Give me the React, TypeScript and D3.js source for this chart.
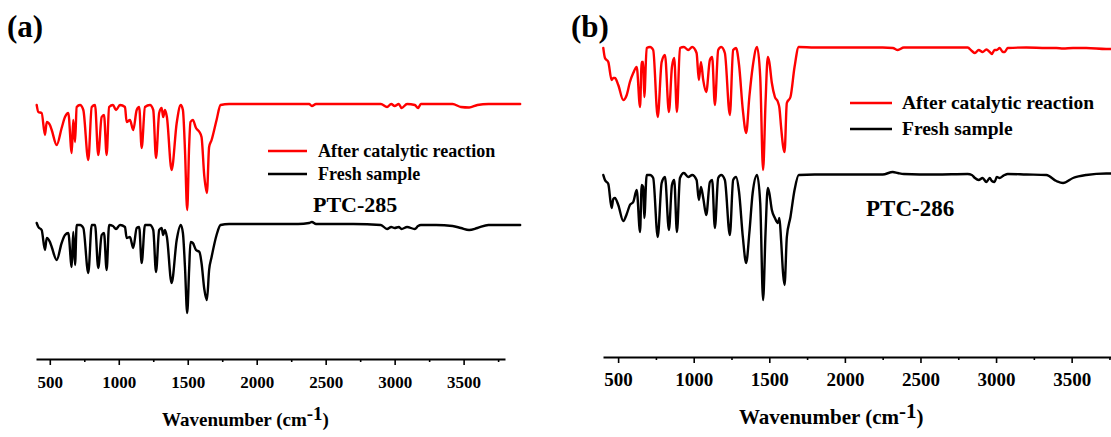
import React, { useEffect, useRef } from 'react';
import * as d3 from 'd3';

// ---------- DATA (wavenumber in cm^-1, transmittance in a.u., curves offset) ----------
const wavenumberA = [
  405, 417, 441, 465, 478, 501, 514, 550, 586, 610, 634, 659, 670, 683, 695, 719, 743, 779, 804, 828,
  851, 876, 893, 912, 930, 958, 980, 1009, 1045, 1057, 1081, 1105, 1130, 1148, 1166, 1190, 1226, 1250, 1270, 1293,
  1311, 1322, 1335, 1349, 1383, 1420, 1449, 1465, 1480, 1496, 1510, 1520, 1537, 1560, 1585, 1600, 1620, 1639, 1655, 1673,
  1709, 1738, 1800, 2000, 2300, 2380, 2400, 2430, 2500, 2700, 2900, 2945, 2975, 3000, 3030, 3050, 3090, 3146, 3170, 3190,
  3300, 3420, 3480, 3540, 3600, 3680, 3800, 3910,
];
const afterA = [
  254, 247, 246, 224, 237, 234, 229, 214, 231, 242, 246, 206, 239, 217, 252, 254, 249, 199, 252, 254,
  204, 242, 244, 204, 252, 254, 249, 254, 252, 237, 239, 229, 249, 252, 211, 252, 254, 249, 201, 246,
  251, 242, 249, 242, 189, 236, 254, 249, 209, 149, 212, 237, 239, 231, 227, 222, 183, 166, 212, 219,
  239, 254, 255, 255, 255, 255, 253, 255, 255, 255, 255, 252, 255, 253, 255, 251, 255, 254, 251, 255,
  255, 255, 252, 251.5, 254, 255, 255, 255,
];
const freshA = [
  136, 132, 129, 109, 121, 117, 112, 99, 116, 124, 126, 92, 127, 94, 134, 134, 131, 86, 134, 134,
  91, 124, 126, 89, 134, 133, 130, 134, 132, 121, 122, 111, 131, 132, 96, 134, 134, 129, 87, 129,
  131, 124, 129, 122, 76, 119, 134, 126, 92, 46, 89, 117, 116, 109, 107, 96, 70, 59, 89, 102,
  124, 134, 135, 135, 135, 136, 137, 135, 135, 135, 134, 130, 132, 131, 132, 130, 132, 130, 133, 134,
  134, 133, 131, 129, 131, 134, 134, 134,
];

const wavenumberB = [
  402, 413, 435, 457, 468, 479, 501, 534, 557, 578, 600, 623, 645, 656, 666, 673, 689, 711, 732, 762,
  788, 810, 836, 856, 871, 889, 909, 935, 964, 990, 1019, 1034, 1048, 1063, 1083, 1107, 1122, 1140, 1162, 1182,
  1206, 1239, 1261, 1280, 1300, 1325, 1347, 1368, 1390, 1419, 1440, 1459, 1475, 1490, 1500, 1517, 1537, 1557, 1567, 1578,
  1592, 1601, 1616, 1640, 1667, 1695, 1800, 2000, 2250, 2317, 2350, 2390, 2600, 2812, 2840, 2860, 2885, 2911, 2936, 2958,
  2972, 2990, 3005, 3024, 3045, 3057, 3077, 3200, 3333, 3399, 3443, 3509, 3597, 3729, 3850,
];
const afterB = [
  309, 299, 295, 277, 279, 279, 272, 257, 262, 275, 284, 290, 250, 295, 295, 260, 309, 310, 307, 240,
  295, 302, 245, 290, 299, 245, 309, 310, 307, 310, 304, 277, 295, 277, 265, 297, 300, 252, 307, 310,
  304, 242, 307, 309, 292, 247, 224, 260, 290, 310, 280, 187, 254, 300, 295, 274, 260, 255, 249, 230,
  210, 205, 254, 260, 290, 310, 309.5, 309.5, 309.5, 309, 307, 309.5, 309.5, 309.5, 306, 304, 307, 305, 307.5, 305,
  303, 307, 307, 309, 305, 305, 309, 309.5, 309, 309, 308.5, 309, 309, 308, 308,
];
const freshB = [
  182, 177, 173, 149, 158, 159, 152, 136, 143, 152, 155, 167, 125, 172, 170, 139, 182, 182, 179, 120,
  174, 180, 127, 172, 177, 125, 179, 184, 180, 182, 177, 157, 170, 159, 142, 175, 177, 129, 179, 182,
  177, 122, 177, 180, 165, 120, 94, 124, 164, 182, 154, 57, 124, 169, 164, 147, 139, 134, 139, 117,
  82, 72, 120, 140, 167, 182, 182.5, 182.5, 182.5, 185, 184, 183, 182.5, 183, 182, 179, 177, 179, 175, 179,
  176, 175, 180, 179, 181, 182, 183, 182.5, 182, 176, 174, 179, 182, 183.5, 183.5,
];

const majorTicks = [500, 1000, 1500, 2000, 2500, 3000, 3500];
const minorTicks = [750, 1250, 1750, 2250, 2750, 3250, 3750];
const legendLabels = ['After catalytic reaction', 'Fresh sample'];
const sampleNames = ['PTC-285', 'PTC-286'];
const panelTags = ['(a)', '(b)'];
const seriesColors = ['#ff0000', '#000000'];

const FONT = '"Liberation Serif", "Times New Roman", Times, serif';

type Cfg = {
  xRange: [number, number];
  axisY: number;
  yTop: number;
  tickFont: number;
  tickBaseline: number;
  titleFont: number;
  titleX: number;
  titleBaseline: number;
  legLine: [number, number];
  legRows: [number, number];
  legTextX: number;
  legFont: number;
  sampleX: number;
  sampleBaseline: number;
  sampleFont: number;
  tagX: number;
  tagBaseline: number;
  tagFont: number;
};

const cfgA: Cfg = {
  xRange: [36, 505], axisY: 359, yTop: 19,
  tickFont: 17, tickBaseline: 387.5,
  titleFont: 19, titleX: 162, titleBaseline: 426,
  legLine: [268, 307], legRows: [151, 174], legTextX: 318, legFont: 18,
  sampleX: 313, sampleBaseline: 211.5, sampleFont: 22,
  tagX: 7, tagBaseline: 37, tagFont: 31,
};
const cfgB: Cfg = {
  xRange: [603, 1117], axisY: 357, yTop: 17,
  tickFont: 19, tickBaseline: 386,
  titleFont: 21, titleX: 739, titleBaseline: 424,
  legLine: [850, 892], legRows: [103, 129], legTextX: 902, legFont: 19.5,
  sampleX: 866, sampleBaseline: 216, sampleFont: 23,
  tagX: 571, tagBaseline: 37, tagFont: 31,
};

function Panel({ cfg, wn, after, fresh, name, tag }: { cfg: Cfg; wn: number[]; after: number[]; fresh: number[]; name: string; tag: string }) {
  const axisRef = useRef<SVGGElement>(null);
  const minorRef = useRef<SVGGElement>(null);
  const x = d3.scaleLinear().domain([400, 3800]).range(cfg.xRange);
  const y = d3.scaleLinear().domain([0, 340]).range([cfg.axisY, cfg.yTop]);
  const line = d3
    .line<number>()
    .x((_, i) => x(wn[i]))
    .y((d) => y(d))
    .curve(d3.curveMonotoneX);

  useEffect(() => {
    if (axisRef.current) {
      const g = d3.select(axisRef.current);
      g.call(d3.axisBottom(x).tickValues(majorTicks).tickSize(6).tickSizeOuter(0).tickFormat(d3.format('d')) as any);
      g.select('.domain').attr('stroke', '#000').attr('stroke-width', 2);
      g.selectAll('.tick line').attr('stroke', '#000').attr('stroke-width', 1.6);
      g.selectAll('.tick text')
        .attr('y', cfg.tickBaseline - cfg.axisY)
        .attr('dy', null)
        .attr('fill', '#000')
        .style('font-family', FONT)
        .style('font-weight', 'bold')
        .style('font-size', cfg.tickFont + 'px');
    }
    if (minorRef.current) {
      const g = d3.select(minorRef.current);
      g.call(d3.axisBottom(x).tickValues(minorTicks).tickSize(3).tickSizeOuter(0).tickFormat(() => '') as any);
      g.select('.domain').remove();
      g.selectAll('.tick line').attr('stroke', '#000').attr('stroke-width', 1.6);
    }
  });

  const series = [after, fresh];
  return (
    <g>
      {series.map((s, i) => (
        <path key={i} d={line(s) || ''} fill="none" stroke={seriesColors[i]} strokeWidth={2.4} strokeLinejoin="round" strokeLinecap="round" />
      ))}
      <g ref={minorRef} transform={`translate(0,${cfg.axisY})`} />
      <g ref={axisRef} transform={`translate(0,${cfg.axisY})`} />
      <text x={cfg.titleX} y={cfg.titleBaseline} fontFamily={FONT} fontWeight="bold" fontSize={cfg.titleFont} fill="#000">
        Wavenumber (cm
        <tspan dy={-6}>-1</tspan>
        <tspan dy={6}>)</tspan>
      </text>
      {legendLabels.map((lab, i) => (
        <g key={lab}>
          <line x1={cfg.legLine[0]} x2={cfg.legLine[1]} y1={cfg.legRows[i]} y2={cfg.legRows[i]} stroke={seriesColors[i]} strokeWidth={2.4} />
          <text x={cfg.legTextX} y={cfg.legRows[i] + cfg.legFont * 0.33} fontFamily={FONT} fontWeight="bold" fontSize={cfg.legFont} fill="#000">
            {lab}
          </text>
        </g>
      ))}
      <text x={cfg.sampleX} y={cfg.sampleBaseline} fontFamily={FONT} fontWeight="bold" fontSize={cfg.sampleFont} fill="#000">
        {name}
      </text>
      <text x={cfg.tagX} y={cfg.tagBaseline} fontFamily={FONT} fontWeight="bold" fontSize={cfg.tagFont} fill="#000">
        {tag}
      </text>
    </g>
  );
}

export default function App() {
  return (
    <svg width={1111} height={437} viewBox="0 0 1111 437" style={{ position: 'absolute', left: 0, top: 0, background: '#fff' }}>
      <rect x={0} y={0} width={1111} height={437} fill="#fff" />
      <Panel cfg={cfgA} wn={wavenumberA} after={afterA} fresh={freshA} name={sampleNames[0]} tag={panelTags[0]} />
      <Panel cfg={cfgB} wn={wavenumberB} after={afterB} fresh={freshB} name={sampleNames[1]} tag={panelTags[1]} />
    </svg>
  );
}
